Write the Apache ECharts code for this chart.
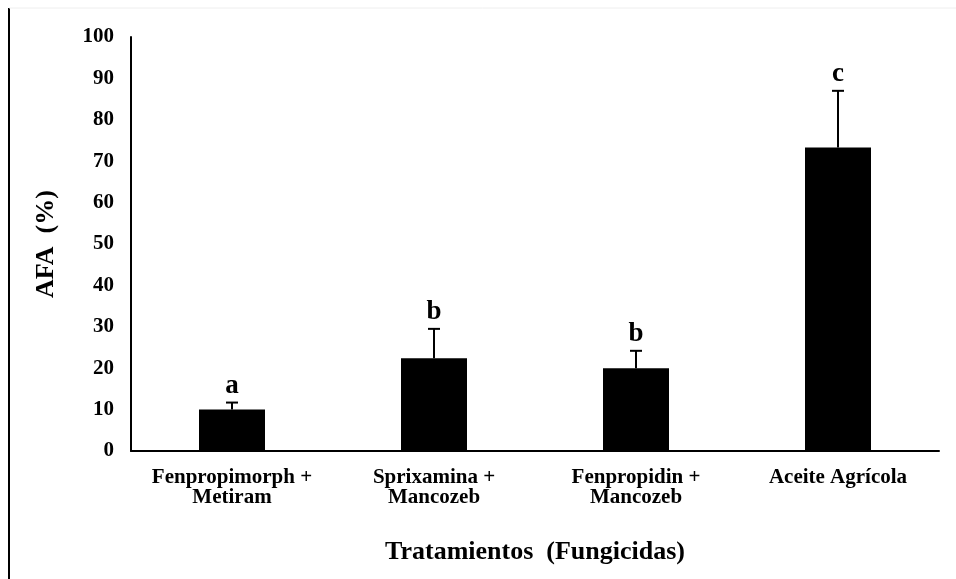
<!DOCTYPE html>
<html><head><meta charset="utf-8">
<script src="https://cdn.jsdelivr.net/npm/echarts@6/dist/echarts.min.js"></script>
<style>html,body{margin:0;padding:0;background:#fff}#c{width:956px;height:579px}</style>
</head><body><div id="c"></div>
<script>
var categories = ['Fenpropimorph +\nMetiram', 'Sprixamina +\nMancozeb', 'Fenpropidin +\nMancozeb', 'Aceite Agrícola'];
var means = [10, 22.4, 20, 73.3];
var errTops = [11.7, 29.5, 24.2, 87];
var letters = ['a', 'b', 'b', 'c'];
var yTicks = [0, 10, 20, 30, 40, 50, 60, 70, 80, 90, 100];

var FONT = '"Liberation Serif", "Times New Roman", serif';
var chart = echarts.init(document.getElementById('c'));
var errData = categories.map(function (c, i) { return [i, means[i], errTops[i], letters[i]]; });

chart.setOption({
  animation: false,
  grid: { left: 131, right: 17, top: 37, bottom: 128, outerBoundsMode: 'none', containLabel: false },
  xAxis: {
    type: 'category', data: categories,
    axisLine: { lineStyle: { color: '#000', width: 2 } },
    axisTick: { show: false },
    axisLabel: { color: '#000', fontFamily: FONT, fontWeight: 'bold', fontSize: 21, margin: 17, lineHeight: 20, interval: 0 },
    name: 'Tratamientos  (Fungicidas)', nameLocation: 'middle', nameGap: 88,
    nameTextStyle: { color: '#000', fontFamily: FONT, fontWeight: 'bold', fontSize: 26 }
  },
  yAxis: {
    type: 'value', min: 0, max: 100, interval: 10,
    axisLine: { show: true, lineStyle: { color: '#000', width: 2 } },
    axisTick: { show: false }, splitLine: { show: false },
    axisLabel: { color: '#000', fontFamily: FONT, fontWeight: 'bold', fontSize: 21, margin: 17,
      formatter: function (v) { return yTicks.indexOf(v) >= 0 ? String(v) : ''; } },
    name: 'AFA  (%)', nameLocation: 'middle', nameGap: 72, nameRotate: 90,
    nameTextStyle: { color: '#000', fontFamily: FONT, fontWeight: 'bold', fontSize: 26 }
  },
  series: [
    { type: 'bar', data: means, barWidth: 66, itemStyle: { color: '#000' } },
    { type: 'custom', data: errData, z: 5,
      renderItem: function (params, api) {
        var base = api.coord([api.value(0), api.value(1)]);
        var top = api.coord([api.value(0), api.value(2)]);
        var x = base[0];
        return { type: 'group', children: [
          { type: 'line', shape: { x1: x, y1: base[1], x2: x, y2: top[1] }, style: { stroke: '#000', lineWidth: 2 } },
          { type: 'line', shape: { x1: x - 6, y1: top[1], x2: x + 6, y2: top[1] }, style: { stroke: '#000', lineWidth: 2 } },
          { type: 'text', style: { text: letters[params.dataIndex], x: x, y: top[1] - 3, textAlign: 'center', textVerticalAlign: 'bottom',
            fill: '#000', font: 'bold 27px ' + FONT } }
        ] };
      }
    }
  ],
  graphic: [
    { type: 'line', shape: { x1: 9, y1: 8, x2: 9, y2: 579 }, style: { stroke: '#000', lineWidth: 2 } },
    { type: 'line', shape: { x1: 9, y1: 8, x2: 956, y2: 8 }, style: { stroke: '#eee', lineWidth: 1 } }
  ]
});
</script></body></html>
